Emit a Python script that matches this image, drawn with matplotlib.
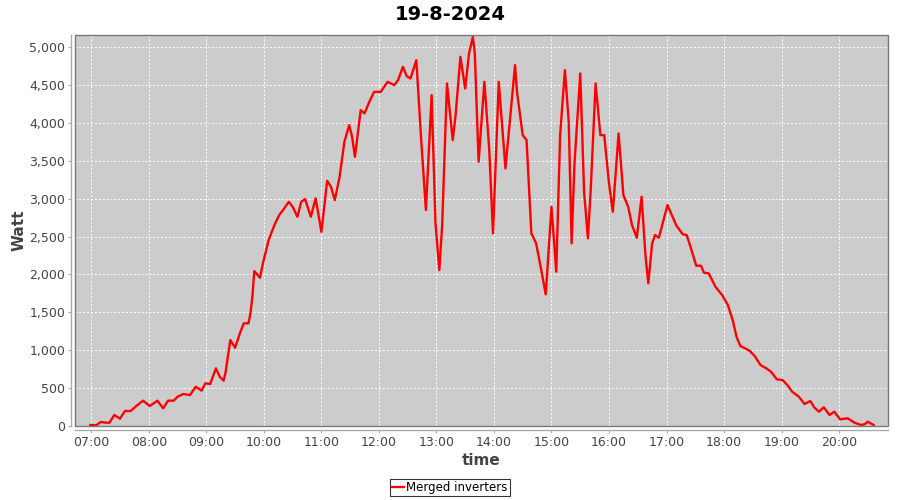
import matplotlib
matplotlib.use("Agg")
import matplotlib.pyplot as plt
import matplotlib.dates as mdates
from matplotlib.patches import Rectangle
from matplotlib.ticker import FuncFormatter, MultipleLocator
import pandas as pd

# --------------------------------------
# Data
# --------------------------------------
day = "2024-08-19"
title = "19-8-2024"
series_name = "Merged inverters"

times = [
    "06:59", "07:05", "07:10", "07:15", "07:19", "07:24", "07:30", "07:35", "07:41", "07:47",
    "07:54", "08:01", "08:09", "08:15", "08:20", "08:26", "08:30", "08:36", "08:43", "08:49",
    "08:55", "08:59", "09:04", "09:10", "09:14", "09:18", "09:20", "09:25", "09:30", "09:35",
    "09:39", "09:44", "09:46", "09:48", "09:50", "09:56", "09:59", "10:05", "10:11", "10:16",
    "10:20", "10:26", "10:30", "10:35", "10:39", "10:43", "10:49", "10:54", "11:00", "11:03",
    "11:06", "11:10", "11:14", "11:19", "11:24", "11:29", "11:32", "11:35", "11:38", "11:41",
    "11:45", "11:50", "11:55", "12:02", "12:09", "12:16", "12:20", "12:25", "12:29", "12:33",
    "12:39", "12:44", "12:49", "12:55", "12:59", "13:03", "13:06", "13:11", "13:17", "13:20",
    "13:25", "13:30", "13:34", "13:38", "13:40", "13:44", "13:50", "13:55", "13:59", "14:05",
    "14:12", "14:22", "14:24", "14:30", "14:34", "14:39", "14:44", "14:49", "14:54", "15:00",
    "15:05", "15:09", "15:14", "15:18", "15:21", "15:24", "15:30", "15:34", "15:38", "15:41",
    "15:46", "15:51", "15:55", "16:00", "16:04", "16:10", "16:15", "16:20", "16:24", "16:29",
    "16:34", "16:38", "16:41", "16:45", "16:48", "16:52", "17:01", "17:10", "17:17", "17:21",
    "17:25", "17:31", "17:36", "17:39", "17:44", "17:51", "17:58", "18:04", "18:09", "18:13",
    "18:17", "18:22", "18:27", "18:32", "18:38", "18:44", "18:49", "18:55", "19:01", "19:06",
    "19:11", "19:18", "19:24", "19:30", "19:34", "19:39", "19:44", "19:50", "19:55", "20:01",
    "20:09", "20:16", "20:23", "20:27", "20:30", "20:36",
]

watts = [
    13, 9, 53, 44, 44, 145, 97, 198, 198, 264,
    334, 264, 334, 233, 334, 334, 387, 422, 409, 519,
    466, 563, 554, 761, 650, 598, 703, 1135, 1033, 1223,
    1355, 1355, 1487, 1700, 2045, 1956, 2146, 2454, 2652, 2784,
    2850, 2959, 2893, 2761, 2959, 2995, 2761, 3004, 2563, 2893,
    3236, 3157, 2981, 3289, 3751, 3971, 3817, 3553, 3861, 4169,
    4125, 4278, 4410, 4410, 4542, 4499, 4565, 4740, 4617, 4587,
    4828, 3800, 2850, 4367, 2678, 2058, 2652, 4521, 3773, 4103,
    4872, 4455, 4917, 5136, 4920, 3487, 4542, 3663, 2542, 4542,
    3399, 4762, 4410, 3839, 3773, 2542, 2410, 2080, 1737, 2893,
    2036, 3839, 4697, 4015, 2410, 3466, 4653, 3091, 2476, 3136,
    4521, 3839, 3839, 3202, 2827, 3861, 3047, 2893, 2652, 2484,
    3025, 2256, 1883, 2410, 2520, 2484, 2916, 2652, 2529, 2520,
    2365, 2115, 2115, 2023, 2014, 1838, 1728, 1596, 1398, 1178,
    1055, 1025, 989, 923, 805, 761, 716, 616, 607, 541,
    453, 387, 290, 330, 247, 189, 247, 145, 189, 88,
    102, 44, 13, 26, 57, 13,
]

x = pd.to_datetime([f"{day} {t}" for t in times])

# --------------------------------------
# Plot
# --------------------------------------
fig = plt.figure(figsize=(9, 5), dpi=100)
ax = fig.add_axes([75 / 900, 74 / 500, 813 / 900, 391 / 500])
ax.set_facecolor("#CCCCCC")

ax.plot(x, watts, color="#FF0000", linewidth=1.7, label=series_name,
        solid_joinstyle="round", zorder=3)

ax.set_xlim(pd.Timestamp(f"{day} 06:43"), pd.Timestamp(f"{day} 20:51"))
ax.set_ylim(0, 5160)

ax.xaxis.set_major_locator(mdates.HourLocator())
ax.xaxis.set_major_formatter(mdates.DateFormatter("%H:%M"))
ax.yaxis.set_major_locator(MultipleLocator(500))
ax.yaxis.set_major_formatter(FuncFormatter(lambda v, p: f"{int(v):,}"))

ax.grid(True, color="white", linestyle=(0, (2, 2)), linewidth=0.7)
ax.set_axisbelow(True)

# JFreeChart-like axes: offset axis lines + plot outline
for side in ["top", "right"]:
    ax.spines[side].set_visible(False)
ax.spines["left"].set_position(("outward", 3))
ax.spines["bottom"].set_position(("outward", 3))
for side in ["left", "bottom"]:
    ax.spines[side].set_color("#AAAAAA")
    ax.spines[side].set_linewidth(1)
ax.add_patch(Rectangle((0, 0), 1, 1, transform=ax.transAxes, fill=False,
                       edgecolor="#777777", linewidth=1, zorder=4, clip_on=False))

ax.tick_params(axis="both", length=2, color="#AAAAAA", labelsize=9, labelcolor="#444444", pad=2)

ax.set_ylabel("Watt", fontsize=11, fontweight="bold", color="#444444", labelpad=2)
ax.set_xlabel("time", fontsize=11, fontweight="bold", color="#444444", labelpad=3)
fig.suptitle(title, fontsize=14, fontweight="bold", y=0.99)

leg = fig.legend(loc="lower center", bbox_to_anchor=(0.5, 0.0), fontsize=8.5,
                 frameon=True, fancybox=False, handlelength=1.0, handletextpad=0.2,
                 borderpad=0.2, borderaxespad=0.3)
leg.get_frame().set_edgecolor("black")
leg.get_frame().set_linewidth(0.8)

plt.savefig("out.png", dpi=100)
plt.close()
